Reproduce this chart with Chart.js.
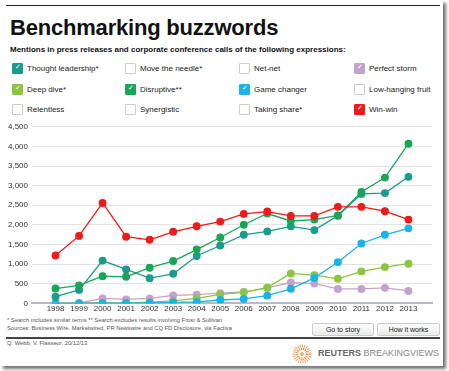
<!DOCTYPE html>
<html>
<head>
<meta charset="utf-8">
<script src="https://cdn.jsdelivr.net/npm/chart.js@4"></script>
<style>
  body { margin: 0; background: #fff; font-family: "Liberation Sans", Arial, sans-serif; }
  #frame { position: absolute; left: 0; top: 0; width: 443px; height: 366px; background: #fff;
           box-shadow: 3px 3px 3px rgba(0,0,0,0.55); overflow: hidden; }
  .topline { position: absolute; left: 6px; top: 5px; width: 434px; height: 1px; background: #222; }
  h1 { position: absolute; left: 10px; top: 15px; margin: 0; font-size: 22px; font-weight: bold; color: #111; letter-spacing: -0.2px; }
  .sub { position: absolute; left: 10px; top: 45px; font-size: 8px; font-weight: bold; color: #111; }
  .leg { position: absolute; font-size: 8px; color: #222; white-space: nowrap; }
  .box { position: absolute; width: 9px; height: 9px; border: 1px solid #ccc; border-radius: 1px; background: #fff; }
  .box.on::after { content: "\2713"; position: absolute; left: 2px; top: -1px; font-size: 7px; color: #fff; }
  #wrap { position: absolute; left: 0; top: 118px; width: 440px; height: 197px; }
  .note { position: absolute; left: 7px; font-size: 5.8px; color: #555; white-space: nowrap; }
  .btn { position: absolute; top: 323px; height: 11px; border: 1px solid #ccc; border-radius: 2px;
         background: linear-gradient(#fff, #e9e9e9); font-size: 7px; color: #222; text-align: center; line-height: 11px; }
  .sep { position: absolute; left: 6px; top: 337px; width: 434px; height: 2px; background: #444; }
  .logo { position: absolute; left: 318px; top: 348px; font-size: 9px; color: #888; white-space: nowrap; }
</style>
</head>
<body>
<div id="frame">
  <div class="topline"></div>
  <h1>Benchmarking buzzwords</h1>
  <div class="sub">Mentions in press releases and corporate conference calls of the following expressions:</div>
  <div id="legend"></div>
  <div id="wrap"><canvas id="chart"></canvas></div>
  <div class="note" style="top:317px">* Search includes similar terms ** Search excludes results involving Frost &amp; Sullivan</div>
  <div class="note" style="top:325px">Sources: Business Wire, Marketwired, PR Newswire and CQ FD Disclosure, via Factiva</div>
  <div class="btn" style="left:312px;width:60px">Go to story</div>
  <div class="btn" style="left:377px;width:61px">How it works</div>
  <div class="sep"></div>
  <div class="note" style="top:340px">Q. Webb, V. Flasseur, 20/12/13</div>
  <svg style="position:absolute;left:292px;top:344px" width="20" height="20" viewBox="0 0 20 20">
    <circle cx="10" cy="10" r="8" fill="none" stroke="#f0a060" stroke-width="3" stroke-dasharray="1 1.2"/>
    <circle cx="10" cy="10" r="5" fill="none" stroke="#e8863a" stroke-width="2.5" stroke-dasharray="1 1"/>
    <circle cx="10" cy="10" r="2" fill="#f4b27a"/>
  </svg>
  <div class="logo"><b style="color:#666">REUTERS</b> BREAKINGVIEWS</div>
</div>

<script>
const years = [1998, 1999, 2000, 2001, 2002, 2003, 2004, 2005, 2006, 2007, 2008, 2009, 2010, 2011, 2012, 2013];

const winWin = [1220, 1720, 2560, 1700, 1620, 1825, 1965, 2085, 2280, 2340, 2230, 2230, 2460, 2460, 2350, 2135];
const disruptive = [378, 460, 694, 678, 910, 1080, 1372, 1680, 2005, 2290, 2100, 2135, 2240, 2840, 3205, 4070];
const thoughtLeadership = [172, 344, 1090, 866, 643, 755, 1208, 1475, 1748, 1835, 1963, 1868, 2236, 2790, 2811, 3225];
const gameChanger = [0, 0, 5, 5, 10, 25, 40, 87, 113, 198, 372, 650, 1050, 1527, 1748, 1912];
const deepDive = [0, 0, 10, 15, 30, 65, 128, 231, 283, 403, 763, 720, 627, 815, 925, 1012];
const perfectStorm = [0, 10, 128, 103, 128, 205, 224, 260, 290, 395, 532, 506, 370, 370, 396, 319];

const yTicks = [0, 500, 1000, 1500, 2000, 2500, 3000, 3500, 4000, 4500];

// legend rows: [label, colour or null]
const legendItems = [
  ['Thought leadership*', '#1a9c8b'], ['Move the needle*', null], ['Net-net', null], ['Perfect storm', '#c4a2ce'],
  ['Deep dive*', '#8cc63f'], ['Disruptive**', '#19a657'], ['Game changer', '#1cb1e9'], ['Low-hanging fruit', null],
  ['Relentless', null], ['Synergistic', null], ['Taking share*', null], ['Win-win', '#ee1b1b']
];

const legend = document.getElementById('legend');
const colX = [12, 125, 239, 354];
const rowY = [63, 84, 104];
legendItems.forEach((item, i) => {
  const x = colX[i % 4], y = rowY[Math.floor(i / 4)];
  const b = document.createElement('div');
  b.className = 'box' + (item[1] ? ' on' : '');
  b.style.left = x + 'px';
  b.style.top = y + 'px';
  if (item[1]) { b.style.background = item[1]; b.style.borderColor = item[1]; }
  legend.appendChild(b);
  const t = document.createElement('div');
  t.className = 'leg';
  t.textContent = item[0];
  t.style.left = (x + 15) + 'px';
  t.style.top = (y + 1) + 'px';
  legend.appendChild(t);
});

function series(values, color) {
  return {
    data: years.map((yr, i) => ({ x: yr, y: values[i] })),
    borderColor: color,
    backgroundColor: color,
    pointBackgroundColor: color,
    pointBorderColor: color,
    borderWidth: 1.3,
    pointRadius: 3.3,
    fill: false,
    tension: 0
  };
}

new Chart(document.getElementById('chart'), {
  type: 'line',
  data: {
    datasets: [
      series(winWin, '#ee1b1b'),
      series(disruptive, '#19a657'),
      series(thoughtLeadership, '#1a9c8b'),
      series(gameChanger, '#1cb1e9'),
      series(deepDive, '#8cc63f'),
      series(perfectStorm, '#c4a2ce')
    ]
  },
  options: {
    responsive: true,
    maintainAspectRatio: false,
    animation: false,
    layout: { padding: { top: 8, right: 8, left: 0, bottom: 0 } },
    plugins: { legend: { display: false }, tooltip: { enabled: false } },
    scales: {
      x: {
        type: 'linear',
        min: 1997,
        max: 2014,
        afterBuildTicks: (scale) => { scale.ticks = years.map(v => ({ value: v })); },
        ticks: { callback: (v) => String(v), font: { size: 8, family: 'Liberation Sans' }, color: '#333', padding: 1, maxRotation: 0, autoSkip: false },
        grid: { display: false, drawTicks: false, tickLength: 0 },
        border: { color: '#b4bccb', width: 2 }
      },
      y: {
        min: 0,
        max: 4500,
        afterBuildTicks: (scale) => { scale.ticks = yTicks.map(v => ({ value: v })); },
        afterFit: (scale) => { scale.width = 32; },
        ticks: { font: { size: 8, family: 'Liberation Sans' }, color: '#333', padding: 4 },
        grid: { color: '#e2e2e2', lineWidth: 1, drawTicks: false },
        border: { display: false }
      }
    }
  }
});
</script>
</body>
</html>
